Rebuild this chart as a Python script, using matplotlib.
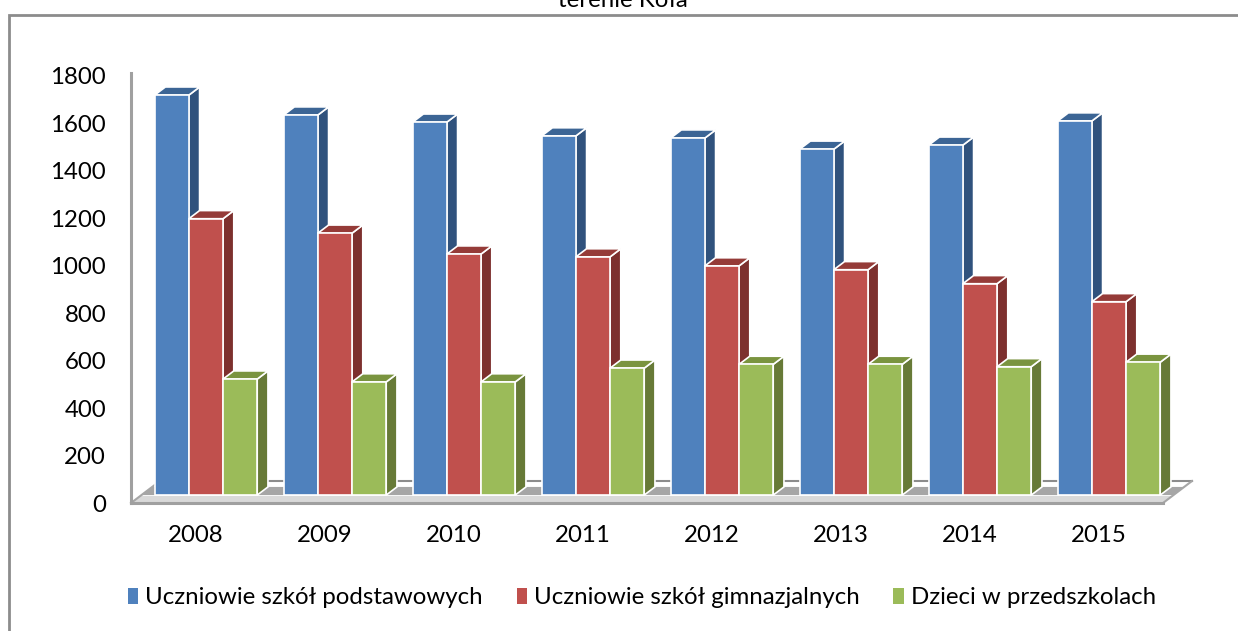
import matplotlib
matplotlib.use("Agg")
import matplotlib.pyplot as plt
from matplotlib.patches import Polygon, Rectangle
from matplotlib.lines import Line2D
import numpy as np

plt.rcParams['font.family'] = ['Lato', 'DejaVu Sans']

years = ['2008', '2009', '2010', '2011', '2012', '2013', '2014', '2015']
series_names = ['Uczniowie szkół podstawowych', 'Uczniowie szkół gimnazjalnych', 'Dzieci w przedszkolach']
podstawowe = [1686, 1602, 1572, 1514, 1505, 1458, 1475, 1577]
gimnazjalne = [1165, 1104, 1016, 1004, 966, 950, 891, 815]
przedszkola = [489, 477, 477, 535, 551, 551, 541, 560]
yticks = [0, 200, 400, 600, 800, 1000, 1200, 1400, 1600, 1800]
title_tail = 'terenie Koła'

front_cols = ['#4F81BD', '#C0504D', '#9BBB59']
side_cols = ['#30527D', '#7D302E', '#677A37']
top_cols = ['#3C6595', '#953B38', '#7A943F']

FS = 17.3
W, H = 1238, 631
fig = plt.figure(figsize=(W / 100, H / 100), dpi=100)

# chart border (extends beyond the image on right and bottom)
fig.patches.append(Rectangle((9 / W, -0.1), 1.2, (H - 15) / H + 0.1,
                             transform=fig.transFigure, fill=False,
                             edgecolor='#8C8C8C', lw=2))
fig.text(623 / W, (H - 7) / H, title_tail, ha='center', va='baseline',
         fontsize=FS, color='black')

ax = fig.add_axes([131 / W, (H - 503) / H, 1032 / W, 427 / H])
ax.set_xlim(-0.5, 7.5)
ax.set_ylim(0, 1800)
for s in ax.spines.values():
    s.set_visible(False)

# depth projection (data units per full depth)
DX = 29 / 129.0
DY = 22 / (427 / 1800)

def P(x, v, t):
    return (x + t * DX, v + t * DY)

x0, x1 = -0.5, 7.5

def band(t0, t1, color, z):
    poly = Polygon([P(x0, 0, t0), P(x1, 0, t0), P(x1, 0, t1), P(x0, 0, t1)],
                   closed=True, facecolor=color, edgecolor='none', zorder=z,
                   clip_on=False)
    ax.add_patch(poly)

band(0.0, 1.0, 'white', 1)
band(0.0, 0.32, '#D9D9D9', 1.2)
band(0.36, 0.73, '#A6A6A6', 1.2)
# floor outline
ax.add_line(Line2D(*zip(P(x0, 0, 1), P(x1, 0, 1)), color='#8C8C8C', lw=1.5, zorder=1.5, clip_on=False))
ax.add_line(Line2D(*zip(P(x1, 0, 1), P(x1, 0, 0)), color='#A6A6A6', lw=1.5, zorder=1.5, clip_on=False))
ax.add_line(Line2D(*zip(P(x0, 0, 1), P(x0, 0, 0)), color='#A6A6A6', lw=1.5, zorder=1.5, clip_on=False))
ax.add_line(Line2D([x0, x1], [0, 0], color='#A0A0A0', lw=2.2, zorder=1.6, clip_on=False))
ax.add_line(Line2D([x0, x0], [0, 1813], color='#A0A0A0', lw=2.2, zorder=1.6, clip_on=False))

# bars
bw = 0.265
tf, tb = 0.36, 0.73
data = [podstawowe, gimnazjalne, przedszkola]
z = 3
for i in range(len(years)):
    for k, vals in enumerate(data):
        v = vals[i]
        xl = i + (k - 1.5) * bw + tf * DX
        base = tf * DY
        xr = xl + bw
        ddx = (tb - tf) * DX
        ddy = (tb - tf) * DY
        ax.add_patch(Polygon([(xr, base), (xr + ddx, base + ddy), (xr + ddx, base + ddy + v), (xr, base + v)],
                             closed=True, facecolor=side_cols[k], edgecolor='white', lw=1.2,
                             zorder=z, clip_on=False, joinstyle='miter'))
        ax.add_patch(Polygon([(xl, base + v), (xr, base + v), (xr + ddx, base + v + ddy), (xl + ddx, base + v + ddy)],
                             closed=True, facecolor=top_cols[k], edgecolor='white', lw=1.2,
                             zorder=z, clip_on=False, joinstyle='miter'))
        ax.bar(xl, v, width=bw, bottom=base, align='edge', color=front_cols[k],
               edgecolor='white', linewidth=1.2, zorder=z + 0.5, clip_on=False,
               label=series_names[k] if i == 0 else None)
        z += 1

ax.set_yticks(yticks)
ax.set_yticklabels([str(t) for t in yticks])
ax.set_xticks(range(len(years)))
ax.set_xticklabels(years)
ax.tick_params(axis='y', length=0, pad=18, labelsize=FS)
ax.tick_params(axis='x', length=0, pad=16, labelsize=FS)

handles = [Rectangle((0, 0), 1, 1, facecolor=c, edgecolor='none') for c in front_cols]
fig.legend(handles, series_names, loc='center', bbox_to_anchor=(642 / W, (H - 598) / H),
           ncol=3, frameon=False, fontsize=FS, handlelength=0.42, handleheight=0.65,
           handletextpad=0.3, columnspacing=1.4)

fig.savefig('out.png', dpi=100)
